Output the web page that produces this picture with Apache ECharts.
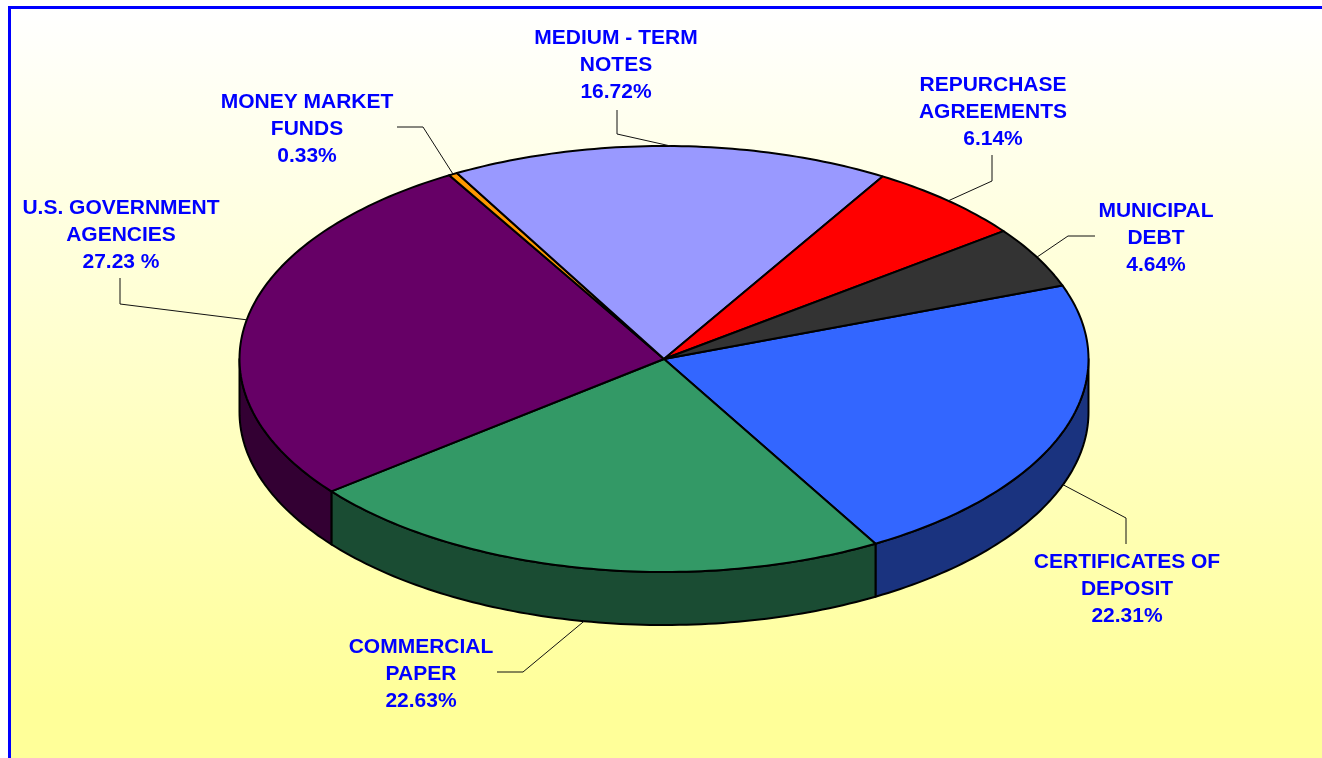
<!DOCTYPE html>
<html>
<head>
<meta charset="utf-8">
<title>Portfolio composition</title>
<style>
html, body { margin: 0; padding: 0; background: #fff; }
#main { width: 1322px; height: 758px; }
</style>
<script src="https://cdn.jsdelivr.net/npm/echarts@6/dist/echarts.min.js"></script>
</head>
<body>
<div id="main"></div>
<script>
// chart values, clockwise from the municipal debt / certificates boundary
var categories = ['CERTIFICATES OF\nDEPOSIT', 'COMMERCIAL\nPAPER', 'U.S. GOVERNMENT\nAGENCIES', 'MONEY MARKET\nFUNDS', 'MEDIUM - TERM\nNOTES', 'REPURCHASE\nAGREEMENTS', 'MUNICIPAL\nDEBT'];
var shares = [22.31, 22.63, 27.23, 0.33, 16.72, 6.14, 4.64];
var shareLabels = ['22.31%', '22.63%', '27.23 %', '0.33%', '16.72%', '6.14%', '4.64%'];

var topColors = ['#3366FF', '#339966', '#660066', '#FF9900', '#9999FF', '#FF0000', '#333333'];
var sideColors = ['#1A337F', '#1A4C33', '#330033', '#7F4C00', '#4C4C7F', '#7F0000', '#1A1A1A'];

// layout of the flattened disc
var cx = 664, cy = 359, rx = 424.5, ry = 213, depth = 53, startAngle = -20.2;
// label centres and leader line bends, one per slice
var labelPos = [[1127, 589], [421, 674], [121, 235], [307, 129], [616, 65], [993, 112], [1156, 238]];
var leaderBends = [
    [[1126, 518], [1126, 544]],
    [[523, 672], [497, 672]],
    [[120, 304], [120, 278]],
    [[423, 127], [397, 127]],
    [[617, 134], [617, 110]],
    [[992, 181], [992, 155]],
    [[1068, 236], [1095, 236]]
];

var total = shares.reduce(function (a, b) { return a + b; }, 0);

function rad(deg) { return deg * Math.PI / 180; }
function onRim(deg, drop) {
    return [cx + rx * Math.cos(rad(deg)), cy + ry * Math.sin(rad(deg)) + (drop || 0)];
}
function arc(from, to, drop) {
    var pts = [], n = Math.max(2, Math.ceil(Math.abs(to - from)));
    for (var i = 0; i <= n; i++) {
        pts.push(onRim(from + (to - from) * i / n, drop));
    }
    return pts;
}

var wrapped = [];
var acc = 0;
shares.forEach(function (v, i) { wrapped.push([v, acc, i]); acc += v; });

function renderSlice(params, api) {
    var share = api.value(0), before = api.value(1), i = api.value(2);
    var a0 = startAngle + before / total * 360;
    var a1 = a0 + share / total * 360;
    var mid = (a0 + a1) / 2;
    var children = [];

    // the visible wall is only the part of the rim facing us (0..180)
    var s0 = Math.max(a0, 0), s1 = Math.min(a1, 180);
    if (s1 > s0) {
        children.push({
            type: 'polygon',
            shape: { points: arc(s0, s1, 0).concat(arc(s1, s0, depth)) },
            style: { fill: sideColors[i], stroke: '#000', lineWidth: 2, lineJoin: 'round' }
        });
    }
    children.push({
        type: 'polygon',
        shape: { points: [[cx, cy]].concat(arc(a0, a1, 0)) },
        style: { fill: topColors[i], stroke: '#000', lineWidth: 2, lineJoin: 'round' }
    });

    var normMid = (mid + 360) % 360;
    var anchor = onRim(mid, normMid < 180 ? depth : 0);
    children.push({
        type: 'polyline',
        shape: { points: [anchor].concat(leaderBends[i]) },
        style: { fill: null, stroke: '#111', lineWidth: 1 }
    });
    children.push({
        type: 'text',
        style: {
            x: labelPos[i][0],
            y: labelPos[i][1],
            text: categories[i] + '\n' + shareLabels[i],
            fill: '#0000FF',
            font: 'bold 21px "Liberation Sans", Arial, sans-serif',
            lineHeight: 27,
            align: 'center',
            verticalAlign: 'middle'
        }
    });
    return { type: 'group', children: children };
}

var myChart = echarts.init(document.getElementById('main'));
myChart.setOption({
    animation: false,
    backgroundColor: '#fff',
    graphic: [
        {
            type: 'rect',
            shape: { x: 11, y: 9, width: 1311, height: 749 },
            style: {
                fill: new echarts.graphic.LinearGradient(0, 0, 0, 1, [
                    { offset: 0, color: '#FFFFFF' },
                    { offset: 0.93, color: '#FFFF99' },
                    { offset: 1, color: '#FFFF99' }
                ])
            },
            silent: true
        },
        { type: 'rect', shape: { x: 8, y: 6, width: 1314, height: 3 }, style: { fill: '#0000FF' }, silent: true },
        { type: 'rect', shape: { x: 8, y: 6, width: 3, height: 752 }, style: { fill: '#0000FF' }, silent: true }
    ],
    series: [{
        type: 'custom',
        coordinateSystem: 'none',
        silent: true,
        renderItem: renderSlice,
        data: wrapped
    }]
});
</script>
</body>
</html>
